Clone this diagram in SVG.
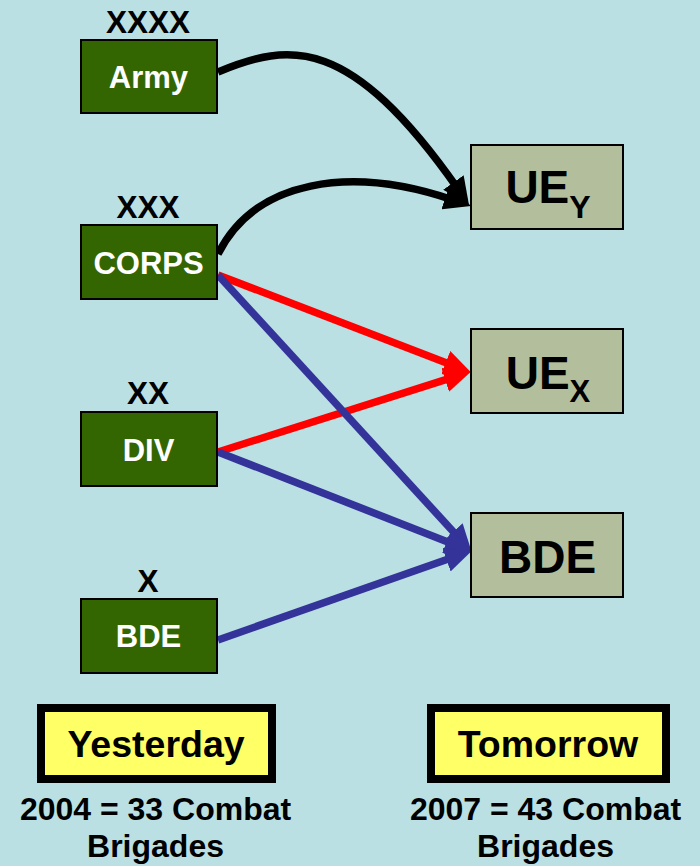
<svg xmlns="http://www.w3.org/2000/svg" width="700" height="866" viewBox="0 0 700 866">
  <style>
    text { font-family: "Liberation Sans", Arial, sans-serif; font-weight: bold; text-anchor: middle; }
    .echelon { font-size: 31.5px; fill: #000; }
    .unit rect { fill: #336600; stroke: #000; stroke-width: 2; }
    .unit .name { font-size: 31px; fill: #fff; }
    .future rect { fill: #B3BF9C; stroke: #000; stroke-width: 2; }
    .future text { font-size: 46px; fill: #000; }
    .era rect { fill: #FFFF66; stroke: #000; stroke-width: 8; }
    .era text { font-size: 37.5px; fill: #000; }
    .note { font-size: 32px; fill: #000; }
    .link { fill: none; stroke-width: 7.5; }
  </style>
  <defs>
    <marker id="arrow-black" markerUnits="userSpaceOnUse" markerWidth="27" markerHeight="25" refX="8" refY="12.5" orient="auto">
      <path d="M0,0 L27,12.5 L0,25 Z" fill="#000"/>
    </marker>
    <marker id="arrow-red" markerUnits="userSpaceOnUse" markerWidth="27" markerHeight="25" refX="8" refY="12.5" orient="auto">
      <path d="M0,0 L27,12.5 L0,25 Z" fill="#FF0000"/>
    </marker>
    <marker id="arrow-blue" markerUnits="userSpaceOnUse" markerWidth="27" markerHeight="25" refX="8" refY="12.5" orient="auto">
      <path d="M0,0 L27,12.5 L0,25 Z" fill="#333399"/>
    </marker>
  </defs>

  <rect width="700" height="866" fill="#BAE0E4"/>

  <!-- connectors -->
  <g id="connectors">
    <path class="link" stroke="#000" d="M218,72 C290,42 350,35 458,189" marker-end="url(#arrow-black)"/>
    <path class="link" stroke="#000" d="M218,254 C255,180 350,165 453,200" marker-end="url(#arrow-black)"/>
    <path class="link" stroke="#FF0000" d="M218,275 L453.2,365.5" marker-end="url(#arrow-red)"/>
    <path class="link" stroke="#FF0000" d="M218,452 L452.8,377.4" marker-end="url(#arrow-red)"/>
    <path class="link" stroke="#333399" d="M218,275 L458.8,537.7" marker-end="url(#arrow-blue)"/>
    <path class="link" stroke="#333399" d="M218,452 L454.2,544.4" marker-end="url(#arrow-blue)"/>
    <path class="link" stroke="#333399" d="M218,640 L454,557" marker-end="url(#arrow-blue)"/>
  </g>

  <!-- current echelons -->
  <g id="army" class="unit">
    <text class="echelon" x="148" y="33">XXXX</text>
    <rect x="81" y="40" width="136" height="73"/>
    <text class="name" x="148.5" y="88">Army</text>
  </g>
  <g id="corps" class="unit">
    <text class="echelon" x="148" y="218">XXX</text>
    <rect x="81" y="225" width="136" height="74"/>
    <text class="name" x="148.5" y="274">CORPS</text>
  </g>
  <g id="div" class="unit">
    <text class="echelon" x="148" y="404">XX</text>
    <rect x="81" y="412" width="136" height="74"/>
    <text class="name" x="148.5" y="461">DIV</text>
  </g>
  <g id="bde-old" class="unit">
    <text class="echelon" x="148" y="592">X</text>
    <rect x="81" y="599" width="136" height="74"/>
    <text class="name" x="148.5" y="647">BDE</text>
  </g>

  <!-- future echelons -->
  <g id="ue-y" class="future">
    <rect x="471" y="145" width="152" height="84"/>
    <text x="548" y="203">UE<tspan font-size="32" dy="15">Y</tspan></text>
  </g>
  <g id="ue-x" class="future">
    <rect x="471" y="329" width="152" height="84"/>
    <text x="548" y="389">UE<tspan font-size="31" dy="13">X</tspan></text>
  </g>
  <g id="bde-new" class="future">
    <rect x="471" y="513" width="152" height="84"/>
    <text x="547.5" y="573">BDE</text>
  </g>

  <!-- period labels -->
  <g id="yesterday" class="era">
    <rect x="41" y="708" width="231" height="71"/>
    <text x="156" y="757">Yesterday</text>
  </g>
  <g id="tomorrow" class="era">
    <rect x="431" y="708" width="235" height="71"/>
    <text x="548" y="757">Tomorrow</text>
  </g>

  <g id="notes">
    <text class="note" x="155.5" y="820">2004 = 33 Combat</text>
    <text class="note" x="155.5" y="857">Brigades</text>
    <text class="note" x="545.5" y="820">2007 = 43 Combat</text>
    <text class="note" x="545.5" y="857">Brigades</text>
  </g>
</svg>
